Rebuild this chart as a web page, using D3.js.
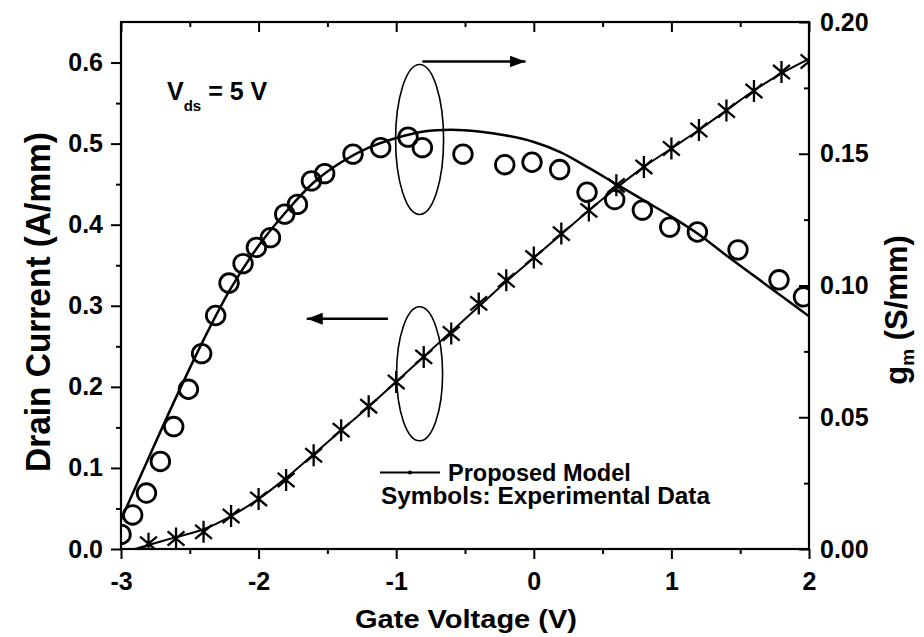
<!DOCTYPE html>
<html>
<head>
<meta charset="utf-8">
<script src="https://cdn.jsdelivr.net/npm/d3@7"></script>
<style>
  body { margin: 0; background: #fff; }
  text { font-family: "Liberation Sans", Arial, sans-serif; font-weight: bold; fill: #000; }
</style>
</head>
<body>
<div id="chart"></div>
<script>
// experimental drain current (circles, left axis)
var idVg = [-3.0, -2.915, -2.815, -2.714, -2.617, -2.51, -2.414, -2.312, -2.215, -2.113, -2.016, -1.914,
  -1.81, -1.718, -1.616, -1.52, -1.314, -1.113, -0.914, -0.81, -0.515, -0.211, -0.013, 0.188, 0.387,
  0.588, 0.789, 0.988, 1.189, 1.484, 1.782, 1.96];
var idExp = [0.018, 0.042, 0.069, 0.108, 0.151, 0.197, 0.241, 0.288, 0.328, 0.352, 0.372, 0.384,
  0.413, 0.425, 0.454, 0.463, 0.487, 0.495, 0.508, 0.495, 0.487, 0.474, 0.477, 0.468, 0.44,
  0.431, 0.418, 0.397, 0.391, 0.369, 0.332, 0.311];

// model drain current (solid line)
var modelVg = [-3.0, -2.8, -2.6, -2.4, -2.2, -2.0, -1.8, -1.6, -1.4, -1.2, -1.0, -0.8, -0.6, -0.4,
  -0.2, 0.0, 0.2, 0.4, 0.6, 0.8, 1.0, 1.2, 1.4, 1.6, 1.8, 2.0];
var idModel = [0.036, 0.112, 0.187, 0.258, 0.322, 0.374, 0.416, 0.452, 0.477, 0.495, 0.507, 0.515,
  0.517, 0.515, 0.51, 0.502, 0.489, 0.47, 0.45, 0.43, 0.41, 0.388, 0.362, 0.337, 0.312, 0.287];

// experimental transconductance (stars, right axis)
var gmVg = [-2.8, -2.6, -2.4, -2.2, -2.0, -1.8, -1.6, -1.4, -1.2, -1.0, -0.8, -0.6, -0.4, -0.2,
  0.0, 0.2, 0.4, 0.6, 0.8, 1.0, 1.2, 1.4, 1.6, 1.8, 2.0];
var gmExp = [0.002, 0.004, 0.0065, 0.0125, 0.019, 0.0262, 0.0356, 0.0451, 0.0542, 0.0634, 0.0729,
  0.0818, 0.0932, 0.102, 0.1106, 0.1197, 0.1285, 0.138, 0.145, 0.152, 0.159, 0.1664, 0.1738, 0.181, 0.185];

// model transconductance
var gmModelVg = [-2.9, -2.8, -2.6, -2.4, -2.2, -2.0, -1.8, -1.6, -1.4, -1.2, -1.0, -0.8, -0.6, -0.4,
  -0.2, 0.0, 0.2, 0.4, 0.6, 0.8, 1.0, 1.2, 1.4, 1.6, 1.8, 2.0];
var gmModel = [0.0, 0.0015, 0.0045, 0.0075, 0.0125, 0.019, 0.027, 0.036, 0.045, 0.054, 0.0635, 0.073,
  0.0825, 0.092, 0.1015, 0.1105, 0.1195, 0.1285, 0.137, 0.145, 0.152, 0.159, 0.1665, 0.174, 0.1805, 0.186];

var xTicks = [-3, -2, -1, 0, 1, 2];
var yLeftTicks = [0.0, 0.1, 0.2, 0.3, 0.4, 0.5, 0.6];
var yRightTicks = [0.00, 0.05, 0.10, 0.15, 0.20];

var svgWidth = 924;
var svgHeight = 637;
var margin = { top: 22, right: 115, bottom: 88, left: 121 };
var width = svgWidth - margin.left - margin.right;
var height = svgHeight - margin.top - margin.bottom;

var svg = d3.select("#chart")
  .append("svg")
  .attr("width", svgWidth)
  .attr("height", svgHeight);

var chartGroup = svg.append("g")
  .attr("transform", `translate(${margin.left}, ${margin.top})`);

var xScale = d3.scaleLinear().domain([-3, 2]).range([0, width]);
var yLeft = d3.scaleLinear().domain([0, 0.65]).range([height, 0]);
var yRight = d3.scaleLinear().domain([0, 0.2]).range([height, 0]);

chartGroup.append("clipPath").attr("id", "plot-clip")
  .append("rect").attr("width", width).attr("height", height);

// minor ticks halfway between majors
function minors(major, step) {
  return major.slice(0, -1).map(d => d + step / 2);
}

var hyphen = d => String(d).replace("\u2212", "-");

// bottom axis
chartGroup.append("g")
  .attr("transform", `translate(0, ${height})`)
  .call(d3.axisBottom(xScale).tickValues(xTicks).tickSize(10).tickPadding(13).tickFormat(d => hyphen(d3.format("d")(d))));
chartGroup.append("g")
  .attr("transform", `translate(0, ${height})`)
  .call(d3.axisBottom(xScale).tickValues(minors(xTicks, 1)).tickSize(5).tickFormat(""));

// top axis (inward)
chartGroup.append("g")
  .call(d3.axisTop(xScale).tickValues(xTicks).tickSize(-10).tickFormat(""));
chartGroup.append("g")
  .call(d3.axisTop(xScale).tickValues(minors(xTicks, 1)).tickSize(-5).tickFormat(""));

// left axis
chartGroup.append("g")
  .call(d3.axisLeft(yLeft).tickValues(yLeftTicks).tickSize(10).tickPadding(8).tickFormat(d3.format(".1f")));
chartGroup.append("g")
  .call(d3.axisLeft(yLeft).tickValues(minors(yLeftTicks, 0.1)).tickSize(5).tickFormat(""));

// right axis (inward ticks)
chartGroup.append("g")
  .attr("transform", `translate(${width}, 0)`)
  .call(d3.axisRight(yRight).tickValues(yRightTicks).tickSize(-10).tickPadding(11).tickFormat(d3.format(".2f")));
chartGroup.append("g")
  .attr("transform", `translate(${width}, 0)`)
  .call(d3.axisRight(yRight).tickValues(minors(yRightTicks, 0.05)).tickSize(-5).tickFormat(""));

chartGroup.selectAll(".domain").remove();
chartGroup.selectAll(".tick line").attr("stroke", "#000").attr("stroke-width", 2);
chartGroup.selectAll(".tick text").style("font-size", "25px").attr("fill", "#000");

// frame
chartGroup.append("rect")
  .attr("width", width)
  .attr("height", height)
  .attr("fill", "none")
  .attr("stroke", "#000")
  .attr("stroke-width", 2.2);

var plot = chartGroup.append("g").attr("clip-path", "url(#plot-clip)");

// model lines
var idLine = d3.line()
  .x((d, i) => xScale(modelVg[i]))
  .y(d => yLeft(d))
  .curve(d3.curveCatmullRom.alpha(0.5));
plot.append("path")
  .datum(idModel)
  .attr("d", idLine)
  .attr("fill", "none")
  .attr("stroke", "#000")
  .attr("stroke-width", 2.5);

var gmLine = d3.line()
  .x((d, i) => xScale(gmModelVg[i]))
  .y(d => yRight(d))
  .curve(d3.curveMonotoneX);
plot.append("path")
  .datum(gmModel)
  .attr("d", gmLine)
  .attr("fill", "none")
  .attr("stroke", "#000")
  .attr("stroke-width", 2);

// circles
plot.selectAll("circle.id")
  .data(idExp)
  .enter()
  .append("circle")
  .attr("class", "id")
  .attr("cx", (d, i) => xScale(idVg[i]))
  .attr("cy", d => yLeft(d))
  .attr("r", 9.3)
  .attr("fill", "none")
  .attr("stroke", "#000")
  .attr("stroke-width", 2.8);

// stars
var starR = 11;
var starPath = "M0," + (-starR) + "L0," + starR;
[40, -40].forEach(function(a) {
  var rad = a * Math.PI / 180;
  var dx = starR * Math.cos(rad), dy = starR * Math.sin(rad);
  starPath += "M" + (-dx) + "," + (-dy) + "L" + dx + "," + dy;
});
plot.selectAll("path.gm")
  .data(gmExp)
  .enter()
  .append("path")
  .attr("class", "gm")
  .attr("transform", (d, i) => `translate(${xScale(gmVg[i])}, ${yRight(d)})`)
  .attr("d", starPath)
  .attr("fill", "none")
  .attr("stroke", "#000")
  .attr("stroke-width", 2.3);

// ellipses marking the curves
chartGroup.append("ellipse")
  .attr("cx", xScale(-0.83)).attr("cy", yLeft(0.505))
  .attr("rx", 24).attr("ry", 75)
  .attr("fill", "none").attr("stroke", "#000").attr("stroke-width", 1.6);
chartGroup.append("ellipse")
  .attr("cx", xScale(-0.83)).attr("cy", yRight(0.0665))
  .attr("rx", 23).attr("ry", 67)
  .attr("fill", "none").attr("stroke", "#000").attr("stroke-width", 1.6);

// arrows
svg.append("defs").append("marker")
  .attr("id", "head")
  .attr("viewBox", "0 0 16 12")
  .attr("refX", 16).attr("refY", 6)
  .attr("markerWidth", 16).attr("markerHeight", 12)
  .attr("markerUnits", "userSpaceOnUse")
  .attr("orient", "auto")
  .append("path").attr("d", "M0,0L16,6L0,12Z").attr("fill", "#000");

chartGroup.append("line")
  .attr("x1", xScale(-0.81)).attr("x2", xScale(-0.06))
  .attr("y1", yRight(0.185)).attr("y2", yRight(0.185))
  .attr("stroke", "#000").attr("stroke-width", 2.5)
  .attr("marker-end", "url(#head)");
chartGroup.append("line")
  .attr("x1", xScale(-1.06)).attr("x2", xScale(-1.65))
  .attr("y1", yLeft(0.284)).attr("y2", yLeft(0.284))
  .attr("stroke", "#000").attr("stroke-width", 2.5)
  .attr("marker-end", "url(#head)");

// V_ds annotation
var vds = svg.append("text")
  .attr("x", 167).attr("y", 100)
  .style("font-size", "25px");
vds.append("tspan").text("V");
vds.append("tspan").attr("dy", 11).style("font-size", "15px").text("ds");
vds.append("tspan").attr("dy", -11).text(" = 5 V");

// legend
svg.append("line")
  .attr("x1", 380).attr("x2", 440).attr("y1", 472.5).attr("y2", 472.5)
  .attr("stroke", "#000").attr("stroke-width", 2);
svg.append("circle")
  .attr("cx", 410).attr("cy", 472.5).attr("r", 2).attr("fill", "#000");
svg.append("text")
  .attr("x", 448).attr("y", 481)
  .style("font-size", "23.5px")
  .text("Proposed Model");
svg.append("text")
  .attr("x", 381).attr("y", 504)
  .attr("textLength", 329).attr("lengthAdjust", "spacingAndGlyphs")
  .style("font-size", "23.5px")
  .text("Symbols: Experimental Data");

// axis titles
svg.append("text")
  .attr("x", 466).attr("y", 628)
  .attr("text-anchor", "middle")
  .attr("textLength", 222).attr("lengthAdjust", "spacingAndGlyphs")
  .style("font-size", "26px")
  .text("Gate Voltage (V)");

svg.append("text")
  .attr("transform", "translate(50, 302) rotate(-90)")
  .attr("text-anchor", "middle")
  .attr("textLength", 340).attr("lengthAdjust", "spacingAndGlyphs")
  .style("font-size", "35px")
  .text("Drain Current (A/mm)");

var gmLabel = svg.append("text")
  .attr("transform", "translate(907, 310) rotate(-90)")
  .attr("text-anchor", "middle")
  .style("font-size", "31px");
gmLabel.append("tspan").text("g");
gmLabel.append("tspan").attr("dy", 7).style("font-size", "19px").text("m");
gmLabel.append("tspan").attr("dy", -7).text(" (S/mm)");
</script>
</body>
</html>
